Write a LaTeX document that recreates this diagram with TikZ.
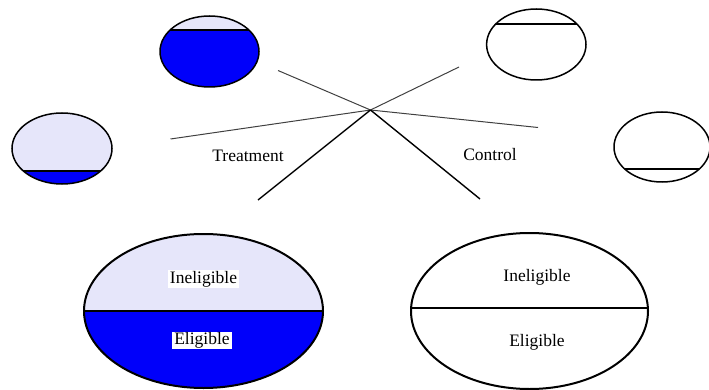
\documentclass[tikz,border=0pt]{standalone}
\usepackage{fontspec}
\setmainfont{Liberation Serif}
\definecolor{lav}{RGB}{230,230,250}
\definecolor{eblue}{RGB}{0,0,250}
\newcommand\splitell[8]{%
  \begin{scope}
    \clip (#1,#2) ellipse [x radius=#3, y radius=#4];
    \fill[#6] (#1-#3,#2-#4) rectangle (#1+#3,#5);
    \fill[#7] (#1-#3,#5) rectangle (#1+#3,#2+#4);
    \draw[line width=#8] (#1-#3,#5) -- (#1+#3,#5);
  \end{scope}
  \draw[line width=#8] (#1,#2) ellipse [x radius=#3, y radius=#4];
}
\tikzset{
  lbl/.style={font=\fontsize{17.5}{20}\selectfont, inner sep=0pt},
  boxlbl/.style={lbl, fill=white, inner xsep=2pt, inner ysep=1pt},
  thinline/.style={line width=1pt, black!75},
  thickline/.style={line width=1.4pt, black}
}
\begin{document}
\begin{tikzpicture}[x=1pt,y=-1pt]
\useasboundingbox (0,0) rectangle (709,390);
% small ellipses
\splitell{209.5}{51.5}{49.5}{35.5}{30}{lav}{eblue}{1.5pt}
\splitell{62}{148.5}{50}{35.5}{171}{lav}{eblue}{1.5pt}
\splitell{536.3}{44.5}{49.7}{35.5}{24}{white}{white}{1.5pt}
\splitell{662}{147}{48}{35}{169}{white}{white}{1.5pt}
% big ellipses
\splitell{203.5}{311}{119.5}{77}{311}{lav}{eblue}{2pt}
\splitell{529.5}{311}{118.5}{78}{308}{white}{white}{2pt}
% connectors
\coordinate (c) at (370.5,110);
\coordinate (tl) at (278,70.5);
\coordinate (l) at (170.5,139);
\coordinate (bl) at (258,200);
\coordinate (tr) at (459,67);
\coordinate (r) at (538,127.5);
\coordinate (br) at (480,199);
\draw[thinline] (c) -- (tl);
\draw[thinline] (c) -- (l);
\draw[thinline] (c) -- (tr);
\draw[thinline] (c) -- (r);
\draw[thickline] (c) -- (bl);
\draw[thickline] (c) -- (br);
% labels
\node[lbl] (treat) at (248,156) {Treatment};
\node[lbl] (ctrl) at (490,155) {Control};
\node[boxlbl] (ine1) at (203.5,279) {Ineligible};
\node[boxlbl] (eli1) at (202,340.5) {Eligible};
\node[lbl] (ine2) at (537,277) {Ineligible};
\node[lbl] (eli2) at (537,342) {Eligible};
\end{tikzpicture}
\end{document}
